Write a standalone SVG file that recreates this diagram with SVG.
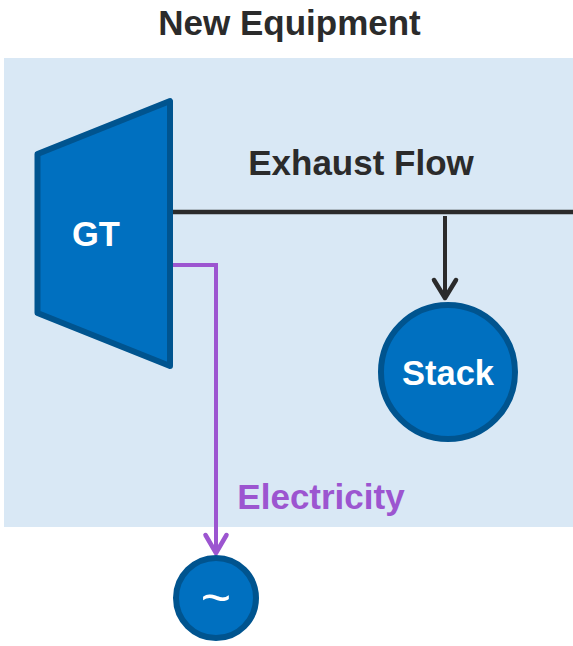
<svg xmlns="http://www.w3.org/2000/svg" width="573" height="646" viewBox="0 0 573 646">
<style>
text{font-family:"Liberation Sans",Arial,sans-serif;font-weight:700}
.n{fill:#0070c0;stroke:#00548f;stroke-width:6;stroke-linejoin:round}
.w{fill:#fff;text-anchor:middle;font-size:34.500px}
.l{fill:none;stroke-linecap:round;stroke-linejoin:round}
.t{font-size:35px;text-anchor:middle}
</style>
<rect id="panel" x="4" y="58" width="569" height="469" fill="#d9e8f5"/>
<text id="title" class="t" x="289.500" y="35" fill="#2b2b2b">New Equipment</text>
<g id="connectors">
<path d="M171 212H573" fill="none" stroke="#2b2b2b" stroke-width="4.500"/>
<path d="M445 216V298" fill="none" stroke="#2b2b2b" stroke-width="4"/>
<path class="l" d="M434 280L445 298L456 280" stroke="#2b2b2b" stroke-width="4.500"/>
<path d="M171 265H216V552" fill="none" stroke="#9c55d0" stroke-width="4"/>
<path class="l" d="M205.500 535L216 553L226.500 535" stroke="#9c55d0" stroke-width="4.500"/>
</g>
<g id="gt">
<polygon class="n" points="37.500,154 170,101 170,366 37.500,313"/>
<text class="w" x="96" y="246">GT</text>
</g>
<g id="stack">
<circle class="n" cx="448" cy="372" r="67"/>
<text class="w" x="448" y="385">Stack</text>
</g>
<g id="generator">
<circle class="n" cx="216" cy="598" r="40"/>
<text class="w" x="216" y="615" style="font-size:52px;font-weight:400">~</text>
</g>
<text id="exhaust-label" class="t" x="361" y="174.500" fill="#2b2b2b">Exhaust Flow</text>
<text id="electricity-label" class="t" x="321" y="509" fill="#9c55d0">Electricity</text>
</svg>
